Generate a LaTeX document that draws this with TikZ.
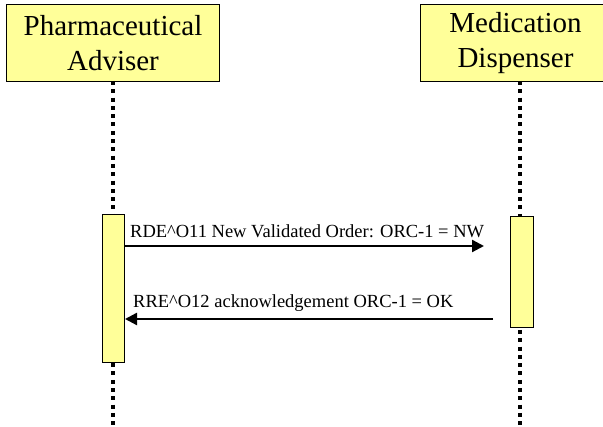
\documentclass[tikz,border=0pt]{standalone}
\usepackage{fontspec}
\setmainfont{Liberation Serif}
\usetikzlibrary{arrows.meta}
\definecolor{boxfill}{HTML}{FFFF99}
\tikzset{
  actor/.style={draw=black, line width=1pt, fill=boxfill, inner sep=0pt, anchor=north west, font=\fontsize{29}{35}\selectfont, align=center},
  act/.style={draw=black, line width=1pt, fill=boxfill, inner sep=0pt, anchor=north west},
  lifeline/.style={line width=4pt, dash pattern=on 4pt off 4.3pt},
  msg/.style={line width=2.3pt, -{Triangle[length=12pt,width=12pt]}},
  lbl/.style={font=\fontsize{18.5}{22}\selectfont, anchor=base west, inner sep=0pt}
}
\begin{document}
\begin{tikzpicture}[x=1pt,y=-1pt]
\useasboundingbox (0,0) rectangle (603,427);
\node[actor, minimum width=213pt, minimum height=77pt] (pa) at (6,4) {Pharmaceutical\\Adviser};
\node[actor, minimum width=190pt, minimum height=77pt] (md) at (420,4) {Medication\\Dispenser};
\coordinate (pend) at (113,427);
\coordinate (mend) at (520,427);
\draw[lifeline] (113,81) -- (pend);
\draw[lifeline] (520,81) -- (mend);
\node[act, minimum width=22pt, minimum height=148pt] (a1) at (102,214) {};
\node[act, minimum width=23pt, minimum height=111pt] (a2) at (510,216) {};
\coordinate (t1) at (484,246);
\coordinate (s2) at (493,319);
\draw[msg] (a1.east |- t1) -- (t1);
\draw[msg] (s2) -- (a1.east |- s2);
\node[lbl] (l1) at (130,238) {RDE\^{}O11 New Validated Order: ORC-1 = NW};
\node[lbl] (l2) at (133,308) {RRE\^{}O12 acknowledgement ORC-1 = OK};
\end{tikzpicture}
\end{document}
